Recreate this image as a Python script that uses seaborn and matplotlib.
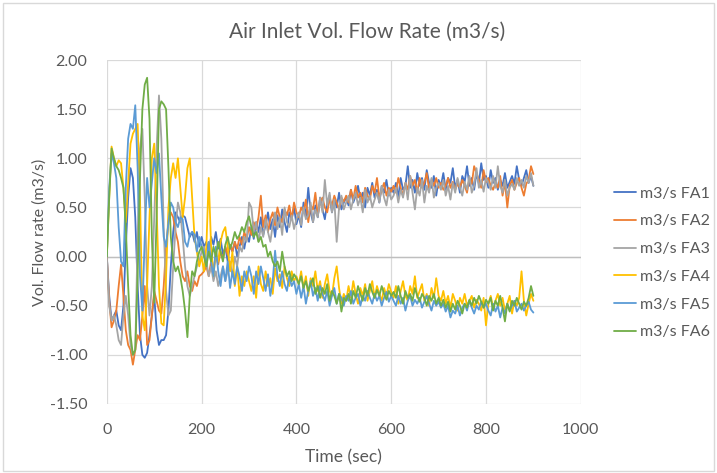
import numpy as np
import pandas as pd
import seaborn as sns
import matplotlib.pyplot as plt
from matplotlib.ticker import FormatStrFormatter, MultipleLocator
from matplotlib.patches import Rectangle

# tiempo de muestreo cada 5 s
tiempo = np.arange(0, 905, 5)

fa1 = [0.00, -0.40, -0.65, -0.60, -0.55, -0.70, -0.75, -0.50, 0.10, 0.60,
       0.90, 0.80, 0.40, -0.30, -0.80, -1.00, -1.03, -0.98, -0.80, -0.60,
       -0.40, -0.75, -0.90, -0.85, -0.85, -0.80, -0.55, -0.10, 0.25, 0.45,
       0.40, 0.35, 0.42, 0.40, 0.30, 0.20, 0.25, 0.15, 0.25, 0.10, 0.20,
       0.10, 0.15, 0.05, 0.20, 0.12, 0.25, 0.08, 0.18, 0.02, 0.10, -0.05, 0.12, 0.05, 0.15, 0.00, 0.10, 0.20, 0.08, 0.22, 0.15,
       0.30, 0.18, 0.35, 0.25, 0.40, 0.22, 0.32, 0.45, 0.28, 0.38, 0.20, 0.42, 0.30, 0.48, 0.35, 0.25, 0.45, 0.38, 0.50, 0.33,
       0.42, 0.30, 0.55, 0.40, 0.70, 0.45, 0.35, 0.52, 0.40, 0.60, 0.48, 0.38, 0.55, 0.62, 0.45, 0.58, 0.50, 0.65, 0.48, 0.55,
       0.60, 0.52, 0.68, 0.55, 0.62, 0.72, 0.58, 0.65, 0.50, 0.70, 0.62, 0.75, 0.60, 0.68, 0.55, 0.72, 0.65, 0.78, 0.62, 0.70,
       0.65, 0.75, 0.60, 0.80, 0.68, 0.72, 0.92, 0.70, 0.78, 0.65, 0.85, 0.72, 0.80, 0.68, 0.88, 0.75, 0.70, 0.82, 0.62, 0.78,
       0.72, 0.85, 0.68, 0.80, 0.75, 0.90, 0.70, 0.78, 0.65, 0.82, 0.76, 0.92, 0.72, 0.80, 0.68, 0.85, 0.74, 0.95, 0.78, 0.82,
       0.70, 0.88, 0.75, 0.80, 0.68, 0.78, 0.72, 0.85, 0.70, 0.76, 0.82, 0.74, 0.92, 0.78, 0.72, 0.80, 0.88, 0.75, 0.82, 0.72]

fa2 = [0.00, -0.45, -0.72, -0.65, -0.55, -0.30, -0.08, -0.40, -0.75, -0.90,
       -0.95, -1.10, -0.95, -0.80, -0.85, -0.60, -0.30, -0.90, -0.85, -0.60,
       -0.35, -0.45, -0.55, -0.58, -0.30, 0.10, 0.35, 0.45, 0.40, 0.25,
       0.15, -0.05, -0.20, -0.25, -0.15, -0.30, -0.35, -0.25, -0.30, -0.20, -0.18,
       -0.15, -0.10, -0.20, -0.05, -0.12, 0.00, -0.08, 0.05, -0.02, 0.10, 0.02, 0.12, 0.05, 0.15, 0.08, 0.20, 0.12, 0.25, 0.18, 0.30,
       0.22, 0.35, 0.28, 0.40, 0.62, 0.30, 0.42, 0.25, 0.38, 0.45, 0.32, 0.50, 0.40, 0.35, 0.48, 0.42, 0.52, 0.38, 0.55, 0.45,
       0.40, 0.50, 0.45, 0.58, 0.35, 0.52, 0.48, 0.65, 0.42, 0.55, 0.60, 0.50, 0.45, 0.58, 0.52, 0.62, 0.55, 0.48, 0.60, 0.56,
       0.62, 0.55, 0.68, 0.58, 0.72, 0.60, 0.65, 0.55, 0.70, 0.62, 0.58, 0.72, 0.65, 0.80, 0.60, 0.68, 0.75, 0.62, 0.70, 0.66,
       0.72, 0.65, 0.80, 0.70, 0.62, 0.75, 0.68, 0.82, 0.72, 0.78, 0.65, 0.80, 0.70, 0.75, 0.85, 0.68, 0.78, 0.72, 0.80, 0.70,
       0.75, 0.68, 0.72, 0.80, 0.70, 0.76, 0.68, 0.74, 0.70, 0.78, 0.72, 0.65, 0.80, 0.74, 0.92, 0.85, 0.78, 0.70, 0.88, 0.76,
       0.80, 0.72, 0.68, 0.75, 0.70, 0.82, 0.62, 0.76, 0.50, 0.72, 0.78, 0.68, 0.75, 0.80, 0.70, 0.62, 0.74, 0.78, 0.92, 0.84]

fa3 = [0.00, -0.50, -0.65, -0.60, -0.70, -0.85, -0.90, -0.60, -0.40, -0.60,
       -0.90, -1.00, -0.95, 0.20, 1.10, 1.30, 0.60, -0.30, -0.60, -0.30,
       0.40, 1.10, 1.64, 1.20, 0.30, -0.35, -0.60, -0.55, -0.10, 0.30,
       0.55, 0.45, 0.20, -0.10, -0.30, -0.40, -0.30, -0.20, -0.10, -0.05, 0.05,
       0.10, -0.05, -0.20, -0.10, -0.25, -0.15, -0.30, -0.20, -0.10, -0.25, -0.15, -0.05, -0.20, 0.00, -0.10, 0.10, 0.05, 0.20, 0.15, 0.55,
       0.50, 0.25, 0.35, 0.15, 0.30, 0.20, 0.38, 0.25, 0.15, 0.32, 0.45, 0.28, 0.40, 0.22, 0.50, 0.35, 0.30, 0.42, 0.28, 0.38,
       0.45, 0.32, 0.50, 0.38, 0.42, 0.55, 0.35, 0.48, 0.40, 0.60, 0.45, 0.78, 0.52, 0.65, 0.45, 0.58, 0.15, 0.50, 0.62, 0.48,
       0.55, 0.62, 0.48, 0.58, 0.65, 0.52, 0.60, 0.45, 0.68, 0.55, 0.62, 0.50, 0.58, 0.65, 0.55, 0.72, 0.60, 0.52, 0.68, 0.58,
       0.62, 0.70, 0.55, 0.68, 0.60, 0.75, 0.58, 0.82, 0.65, 0.48, 0.70, 0.62, 0.78, 0.55, 0.72, 0.65, 0.80, 0.60, 0.70, 0.75,
       0.68, 0.78, 0.62, 0.72, 0.58, 0.75, 0.65, 0.80, 0.70, 0.62, 0.76, 0.68, 0.82, 0.65, 0.72, 0.90, 0.70, 0.78, 0.66, 0.80,
       0.75, 0.68, 0.82, 0.70, 0.92, 0.72, 0.65, 0.78, 0.62, 0.70, 0.74, 0.68, 0.80, 0.72, 0.78, 0.70, 0.82, 0.75, 0.85, 0.72]

fa4 = [0.00, 0.60, 1.12, 1.00, 0.92, 0.98, 0.95, 0.70, 0.35, 0.75,
       1.15, 1.25, 1.30, 1.35, 0.60, -0.60, -0.75, -0.30, 0.40, 1.00,
       1.15, 0.50, -0.30, -0.68, -0.70, -0.20, 0.50, 0.80, 0.95, 0.80,
       1.00, 0.70, 0.40, 0.60, 0.90, 1.00, 0.60, 0.20, 0.05, -0.10, 0.00,
       -0.15, 0.10, 0.80, 0.10, -0.20, 0.05, -0.05, 0.15, 0.25, 0.30, 0.10, -0.15, 0.05, -0.30, -0.10, -0.40, -0.20, -0.30, -0.15, -0.25,
       -0.35, -0.20, -0.42, -0.10, -0.28, -0.35, -0.15, -0.30, -0.22, -0.38, -0.12, -0.25, -0.18, -0.32, -0.10, -0.22, -0.30, -0.15, -0.25, -0.20,
       -0.28, -0.15, -0.32, -0.20, -0.40, -0.22, -0.30, -0.15, -0.35, -0.25, -0.42, -0.28, -0.18, -0.35, -0.40, -0.22, -0.10, -0.32, -0.48, -0.38,
       -0.45, -0.30, -0.42, -0.25, -0.38, -0.48, -0.32, -0.40, -0.28, -0.45, -0.35, -0.25, -0.42, -0.30, -0.38, -0.45, -0.32, -0.40, -0.28, -0.36,
       -0.42, -0.30, -0.48, -0.35, -0.25, -0.40, -0.45, -0.30, -0.38, -0.20, -0.42, -0.35, -0.28, -0.45, -0.38, -0.50, -0.32, -0.42, -0.22, -0.40,
       -0.45, -0.35, -0.48, -0.40, -0.52, -0.38, -0.45, -0.55, -0.42, -0.48, -0.38, -0.50, -0.45, -0.40, -0.52, -0.44, -0.48, -0.55, -0.42, -0.70,
       -0.48, -0.40, -0.52, -0.45, -0.38, -0.50, -0.42, -0.55, -0.48, -0.40, -0.58, -0.45, -0.50, -0.42, -0.15, -0.45, -0.60, -0.48, -0.38, -0.45]

fa5 = [0.00, 0.70, 1.05, 0.95, 0.80, 0.30, -0.05, -0.10, 0.70, 1.20,
       1.35, 1.30, 1.54, 0.90, -0.20, -0.55, 0.20, 0.80, 0.50, 0.75,
       1.00, 0.85, 1.05, 0.60, 0.20, 0.10, 0.35, 0.55, 0.50, 0.35,
       0.30, 0.40, 0.38, 0.15, 0.10, 0.22, 0.25, 0.22, 0.05, 0.20, 0.10,
       0.05, -0.10, 0.15, -0.05, -0.20, 0.10, -0.15, -0.30, -0.10, -0.25, -0.05, -0.32, -0.15, -0.28, -0.10, -0.20, -0.35, -0.15, -0.25, -0.10,
       -0.20, -0.38, -0.15, -0.28, -0.10, -0.22, -0.35, -0.18, -0.40, -0.25, 0.06, -0.20, -0.30, -0.15, -0.28, -0.35, -0.20, -0.30, -0.25, -0.38,
       -0.28, -0.42, -0.30, -0.48, -0.35, -0.25, -0.40, -0.32, -0.45, -0.30, -0.38, -0.45, -0.35, -0.50, -0.40, -0.32, -0.48, -0.38, -0.42, -0.50,
       -0.40, -0.45, -0.35, -0.48, -0.42, -0.38, -0.50, -0.40, -0.45, -0.35, -0.42, -0.48, -0.38, -0.45, -0.40, -0.50, -0.42, -0.36, -0.46, -0.40,
       -0.45, -0.50, -0.40, -0.48, -0.42, -0.55, -0.45, -0.40, -0.50, -0.44, -0.48, -0.42, -0.52, -0.46, -0.40, -0.48, -0.55, -0.45, -0.50, -0.46,
       -0.52, -0.48, -0.56, -0.50, -0.62, -0.55, -0.58, -0.50, -0.60, -0.52, -0.48, -0.55, -0.45, -0.52, -0.58, -0.50, -0.54, -0.46, -0.52, -0.48,
       -0.55, -0.60, -0.48, -0.56, -0.50, -0.62, -0.52, -0.58, -0.48, -0.55, -0.50, -0.45, -0.56, -0.52, -0.48, -0.55, -0.50, -0.46, -0.54, -0.57]

fa6 = [0.00, 0.60, 1.10, 1.00, 0.92, 0.88, 0.80, 0.70, 0.30, -0.30,
       -0.80, -1.00, -0.95, -0.20, 0.80, 1.50, 1.75, 1.82, 1.40, 0.20,
       -0.47, 0.40, 1.50, 1.58, 1.55, 1.50, 0.90, 0.20, -0.05, -0.15,
       -0.10, -0.20, -0.35, -0.55, -0.82, -0.40, -0.15, -0.20, -0.05, 0.05, 0.10,
       0.00, -0.10, 0.05, -0.05, 0.10, 0.00, 0.15, 0.05, -0.05, 0.12, 0.20, 0.08, 0.15, 0.25, 0.18, 0.22, 0.30, 0.25, 0.35, 0.41,
       0.30, 0.20, 0.25, 0.15, 0.20, 0.10, 0.12, 0.00, 0.05, -0.05, -0.10, -0.05, -0.15, 0.05, -0.10, -0.20, -0.15, -0.25, -0.18, -0.22,
       -0.28, -0.20, -0.32, -0.25, -0.35, -0.28, -0.22, -0.38, -0.30, -0.42, -0.32, -0.38, -0.28, -0.45, -0.35, -0.40, -0.48, -0.38, -0.56, -0.42,
       -0.45, -0.38, -0.48, -0.35, -0.42, -0.30, -0.38, -0.45, -0.32, -0.40, -0.28, -0.36, -0.42, -0.34, -0.40, -0.30, -0.38, -0.44, -0.35, -0.40,
       -0.36, -0.42, -0.30, -0.40, -0.48, -0.35, -0.42, -0.38, -0.45, -0.32, -0.40, -0.46, -0.38, -0.42, -0.50, -0.40, -0.45, -0.38, -0.48, -0.42,
       -0.50, -0.44, -0.52, -0.46, -0.56, -0.48, -0.54, -0.45, -0.50, -0.58, -0.48, -0.52, -0.44, -0.50, -0.42, -0.48, -0.40, -0.46, -0.52, -0.44,
       -0.48, -0.42, -0.55, -0.45, -0.50, -0.40, -0.52, -0.66, -0.48, -0.56, -0.45, -0.50, -0.42, -0.48, -0.54, -0.46, -0.50, -0.42, -0.30, -0.40]

nombres = ["m3/s FA1", "m3/s FA2", "m3/s FA3", "m3/s FA4", "m3/s FA5", "m3/s FA6"]
colores = ["#4472C4", "#ED7D31", "#A5A5A5", "#FFC000", "#5B9BD5", "#70AD47"]

df = pd.concat([pd.DataFrame({"Time": tiempo, "Flow": vals, "Serie": n})
                for n, vals in zip(nombres, [fa1, fa2, fa3, fa4, fa5, fa6])])

sns.set_theme(style="white")
plt.rcParams["font.family"] = ["Lato", "DejaVu Sans"]

fig = plt.figure(figsize=(7.17, 4.73), dpi=100)
fig.patches.append(Rectangle((0.004, 0.004), 0.992, 0.99, transform=fig.transFigure,
                             fill=False, edgecolor="#D9D9D9", lw=1))
ax = fig.add_axes([0.149, 0.146, 0.661, 0.727])

sns.lineplot(data=df, x="Time", y="Flow", hue="Serie", palette=colores,
             estimator=None, lw=1.3, ax=ax)

ax.set_xlim(0, 1000)
ax.set_ylim(-1.5, 2.0)
ax.xaxis.set_major_locator(MultipleLocator(200))
ax.yaxis.set_major_locator(MultipleLocator(0.5))
ax.yaxis.set_major_formatter(FormatStrFormatter("%.2f"))
ax.grid(True, color="#D9D9D9", lw=0.9)
ax.set_axisbelow(True)
ax.axhline(0, color="#BFBFBF", lw=1, zorder=1)
for s in ax.spines.values():
    s.set_visible(False)
ax.tick_params(length=0, labelsize=11.5, labelcolor="#595959")
ax.tick_params(axis="y", pad=14)
ax.tick_params(axis="x", pad=13.5)

ax.set_title("Air Inlet Vol. Flow Rate (m3/s)", fontsize=15, color="#595959",
             pad=16, x=0.55)
ax.set_xlabel("Time (sec)", fontsize=12.5, color="#595959", labelpad=9)
ax.set_ylabel("Vol. Flow rate (m3/s)", fontsize=11.5, color="#595959", labelpad=2)

ax.legend(loc="center left", bbox_to_anchor=(1.07, 0.41), frameon=False,
          fontsize=11.5, labelcolor="#595959", handlelength=1.4,
          handletextpad=0.2, labelspacing=0.85, borderaxespad=0, borderpad=0)

plt.savefig("out.png", dpi=100)
